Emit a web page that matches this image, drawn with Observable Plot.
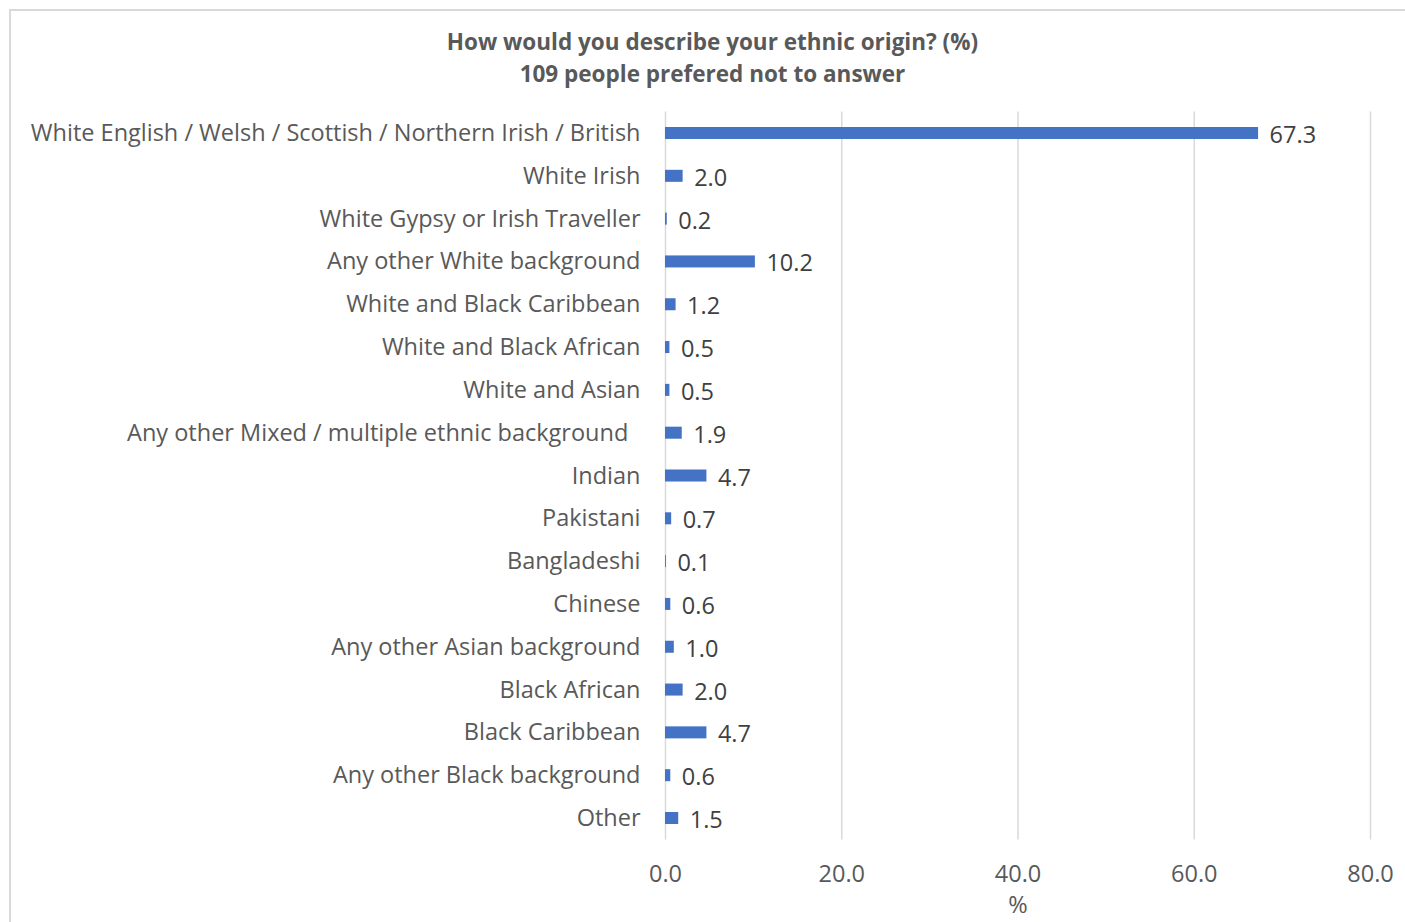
<!DOCTYPE html>
<html>
<head>
<meta charset="utf-8">
<script src="https://cdn.jsdelivr.net/npm/d3@7"></script>
<script src="https://cdn.jsdelivr.net/npm/@observablehq/plot@0.6"></script>
<style>
  html, body { margin: 0; padding: 0; background: #fff; }
  body { width: 1405px; height: 922px; overflow: hidden; position: relative; font-family: "Open Sans", Lato, sans-serif; }
  #frame { position: absolute; left: 9px; top: 9px; width: 1500px; height: 1000px; border-left: 2px solid #d9d9d9; border-top: 2px solid #d9d9d9; }
  #title { position: absolute; left: 0; top: 26px; width: 1425px; text-align: center; font-weight: bold; font-size: 22.5px; line-height: 32px; color: #595959; }
  #chart { position: absolute; left: 0; top: 0; }
</style>
</head>
<body>
<div id="frame"></div>
<div id="chart"></div>
<div id="title">How would you describe your ethnic origin? (%)<br>109 people prefered not to answer</div>
<script>
const categories = [
  "White English / Welsh / Scottish / Northern Irish / British",
  "White Irish",
  "White Gypsy or Irish Traveller",
  "Any other White background",
  "White and Black Caribbean",
  "White and Black African",
  "White and Asian",
  "Any other Mixed / multiple ethnic background\u00A0\u00A0",
  "Indian",
  "Pakistani",
  "Bangladeshi",
  "Chinese",
  "Any other Asian background",
  "Black African",
  "Black Caribbean",
  "Any other Black background",
  "Other"
];
const values = [67.3, 2.0, 0.2, 10.2, 1.2, 0.5, 0.5, 1.9, 4.7, 0.7, 0.1, 0.6, 1.0, 2.0, 4.7, 0.6, 1.5];
const xTicks = [0, 20, 40, 60, 80];

const data = categories.map((c, i) => ({category: c, value: values[i]}));

const chart = Plot.plot({
  width: 1405,
  height: 922,
  marginLeft: 665,
  marginRight: 35,
  marginTop: 111.6,
  marginBottom: 82.6,
  style: {fontFamily: "'Open Sans', Lato, sans-serif", fontSize: "23.5px", color: "#595959", background: "transparent"},
  x: {domain: [0, 80], ticks: xTicks, tickFormat: d => d.toFixed(1), label: "%", labelAnchor: "center", labelArrow: "none"},
  y: {domain: categories, padding: 0, round: false, label: null},
  marks: [
    Plot.gridX(xTicks.filter(d => d > 0), {stroke: "#d9d9d9", strokeOpacity: 1, strokeWidth: 1.5}),
    Plot.ruleX([0], {stroke: "#d9d9d9", strokeWidth: 1.5}),
    Plot.barX(data, {x: "value", y: "category", fill: "#4472C4", insetTop: 15.4, insetBottom: 15.4}),
    Plot.text(data, {x: "value", y: "category", text: d => d.value.toFixed(1), textAnchor: "start", dx: 11, dy: 2, fill: "#404040", fontSize: 23.5}),
    Plot.axisY({tickSize: 0, tickPadding: 25, fontSize: 23.5, fill: "#595959", label: null}),
    Plot.axisX({ticks: xTicks, tickSize: 0, tickPadding: 25, tickFormat: d => d.toFixed(1), fontSize: 23.5, fill: "#595959", label: "%", labelAnchor: "center", labelOffset: 73, labelArrow: "none"})
  ]
});
document.getElementById("chart").appendChild(chart);
</script>
</body>
</html>
